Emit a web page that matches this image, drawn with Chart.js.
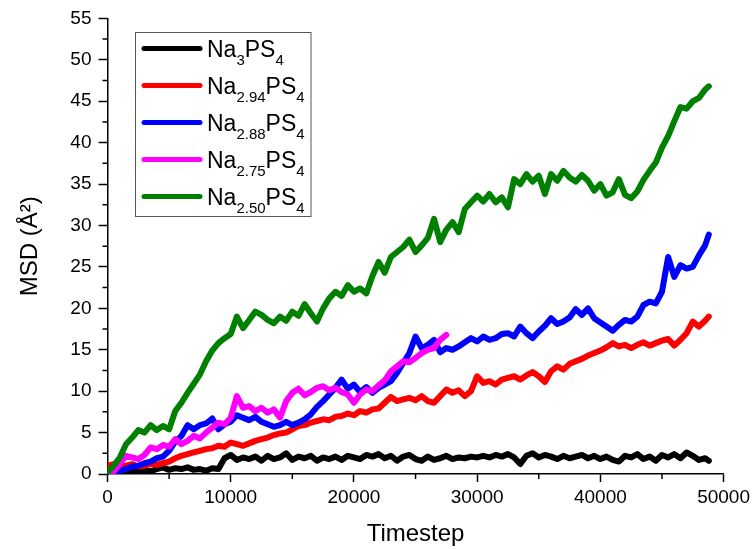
<!DOCTYPE html>
<html>
<head>
<meta charset="utf-8">
<script src="https://cdn.jsdelivr.net/npm/chart.js@4"></script>
<style>
  html, body { margin: 0; padding: 0; background: #fff; }
  #wrap { width: 754px; height: 549px; }
</style>
</head>
<body>
<div id="wrap"><canvas id="chartMSD" width="754" height="549"></canvas></div>
<script>
// series names (shown with subscripts in the legend)
const seriesNames = [
    ['Na', '3', 'PS', '4'],
    ['Na', '2.94', 'PS', '4'],
    ['Na', '2.88', 'PS', '4'],
    ['Na', '2.75', 'PS', '4'],
    ['Na', '2.50', 'PS', '4']
];
const seriesColors = ['#000000', '#ff0000', '#0000ff', '#ff00ff', '#008000'];

const yTicks = [0, 5, 10, 15, 20, 25, 30, 35, 40, 45, 50, 55];
const xTicks = [0, 10000, 20000, 30000, 40000, 50000];

// sampling grid of the trajectories: every 500 steps, last frame at 48800
const timesteps = [];
for (let t = 0; t <= 48500; t += 500) timesteps.push(t);
timesteps.push(48800);

// MSD values (Å^2)
const msdNa3 = [
    0.0, 0.2, 0.3, 0.2, 0.4, 0.3, 0.5, 0.3, 0.6, 0.8,
    0.5, 0.7, 0.6, 0.8, 0.5, 0.6, 0.4, 0.7, 0.6, 1.9,
    2.3, 1.7, 2.0, 1.8, 2.1, 1.6, 2.2, 1.8, 2.0, 2.5,
    1.7, 2.1, 1.9, 2.2, 1.6, 2.0, 1.8, 2.1, 1.7, 2.2,
    2.0, 1.8, 2.3, 2.1, 2.4, 1.9, 2.2, 1.6, 2.1, 2.3,
    1.8, 1.6, 2.1, 1.7, 1.9, 2.2, 1.8, 2.0, 1.9, 2.1,
    2.0, 2.2, 2.0, 2.3, 2.1, 2.4, 2.0, 1.2, 2.2, 2.5,
    2.0, 2.3, 2.1, 1.8, 2.2, 1.9, 2.1, 2.3, 1.9, 2.2,
    1.8, 2.1, 1.7, 1.5, 2.2, 2.0, 2.4, 1.8, 2.1, 1.6,
    2.3, 2.0, 2.4, 1.9, 2.6, 2.2, 1.7, 1.9, 1.6
];
const msdNa294 = [
    1.0, 1.2, 0.9, 1.0, 1.2, 0.9, 1.0, 1.2, 1.1, 1.3,
    1.5, 1.9, 2.2, 2.4, 2.6, 2.8, 3.0, 3.1, 3.4, 3.3,
    3.8, 3.6, 3.4, 3.7, 4.0, 4.2, 4.4, 4.7, 4.9, 5.0,
    5.4, 5.8, 5.9, 6.2, 6.4, 6.6, 6.5, 6.9, 7.0, 7.3,
    7.1, 7.6, 7.4, 7.8, 7.9, 8.6, 9.3, 8.8, 9.0, 9.2,
    8.9, 9.4, 8.8, 8.6, 9.4, 10.2, 9.8, 10.1, 9.4, 10.0,
    11.8, 11.0, 11.2, 10.8, 11.4, 11.6, 11.8, 11.4, 11.9, 12.3,
    11.8, 11.1, 12.4, 13.0, 12.6, 13.3, 13.6, 13.9, 14.3, 14.6,
    14.9, 15.3, 15.8, 15.4, 15.6, 15.2, 15.6, 15.9, 15.5, 15.8,
    16.1, 16.3, 15.5, 16.2, 17.0, 18.4, 17.8, 18.5, 19.0
];
const msdNa288 = [
    0.0, 0.1, 0.4, 0.6, 0.9, 1.0, 1.3, 1.5, 1.9, 2.1,
    2.8, 3.9, 4.6, 5.9, 5.4, 5.9, 6.1, 6.7, 5.4, 6.0,
    6.3, 7.1, 6.8, 6.5, 6.9, 6.3, 6.0, 5.7, 5.9, 6.3,
    5.9, 6.2, 6.6, 7.2, 8.1, 8.8, 9.6, 10.4, 11.4, 10.3,
    10.8, 9.9, 10.5, 9.8, 10.4, 10.8, 11.2, 12.2, 13.4, 14.6,
    16.6, 15.2, 15.6, 16.2, 14.7, 15.2, 15.0, 15.4, 15.9, 16.4,
    16.0, 16.6, 16.2, 16.4, 16.9, 17.0, 16.6, 17.8, 17.0, 16.4,
    17.2, 17.9, 18.8, 18.1, 18.4, 18.9, 19.9, 19.2, 20.0, 18.8,
    18.3, 17.8, 17.3, 18.0, 18.6, 18.4, 19.0, 20.4, 20.8, 20.6,
    22.0, 26.2, 23.8, 25.2, 24.8, 25.0, 26.4, 27.6, 28.9
];
const msdNa275 = [
    0.0, 0.3, 1.2, 2.2, 2.0, 1.8, 2.3, 3.2, 3.0, 3.5,
    3.3, 4.2, 3.6, 4.0, 4.6, 4.3, 5.0, 5.6, 6.2, 6.0,
    6.8, 9.4, 8.0, 8.2, 7.6, 8.0, 7.4, 7.8, 6.8, 8.8,
    9.8, 10.3, 9.5, 9.9, 10.4, 10.6, 10.1, 10.4, 9.9, 9.6,
    8.6, 9.6, 10.2, 10.0, 10.7, 11.3, 12.4, 13.0, 13.6, 13.5,
    14.0, 14.6, 15.0, 15.2, 16.2, 16.8
];
const msdNa250 = [
    0.2, 1.0, 2.0, 3.6, 4.4, 5.3, 5.0, 5.9, 5.3, 5.8,
    5.4, 7.6, 8.6, 9.8, 10.9, 12.0, 13.6, 14.9, 15.8, 16.4,
    16.9, 19.0, 17.6, 18.6, 19.6, 19.2, 18.6, 18.2, 19.0, 18.5,
    19.6, 19.1, 20.5, 19.4, 18.4, 20.0, 21.2, 22.0, 21.5, 22.8,
    22.0, 22.4, 21.8, 23.9, 25.6, 24.3, 26.2, 26.8, 27.4, 28.3,
    26.8, 27.6, 28.5, 30.8, 28.0, 29.5, 30.4, 29.2, 32.0, 32.8,
    33.6, 32.9, 33.8, 32.8, 33.4, 32.2, 35.6, 35.0, 36.2, 35.3,
    36.0, 33.8, 36.2, 35.4, 36.6, 35.8, 35.3, 36.1, 35.4, 34.2,
    35.0, 33.6, 34.0, 35.6, 33.7, 33.3, 34.1, 35.5, 36.6, 37.6,
    39.4, 40.8, 42.6, 44.3, 44.1, 45.0, 45.4, 46.4, 46.8
];

const allSeries = [msdNa3, msdNa294, msdNa288, msdNa275, msdNa250];

function toPoints(values) {
    return values.map((v, i) => ({ x: timesteps[i], y: v }));
}

// minor ticks halfway between the labelled ones
const minorTicks = {
    id: 'minorTicks',
    afterDraw(chart) {
        const c = chart.ctx;
        const xs = chart.scales.x, ys = chart.scales.y;
        const area = chart.chartArea;
        c.save();
        c.strokeStyle = '#000';
        c.lineWidth = 1.5;
        c.beginPath();
        for (let i = 0; i < yTicks.length - 1; i++) {
            const y = ys.getPixelForValue((yTicks[i] + yTicks[i + 1]) / 2);
            c.moveTo(area.left - 5, y);
            c.lineTo(area.left, y);
        }
        for (let i = 0; i < xTicks.length - 1; i++) {
            const x = xs.getPixelForValue((xTicks[i] + xTicks[i + 1]) / 2);
            c.moveTo(x, area.bottom);
            c.lineTo(x, area.bottom + 5);
        }
        c.stroke();
        c.restore();
    }
};

// boxed legend with subscripted formulas
const formulaLegend = {
    id: 'formulaLegend',
    afterDraw(chart) {
        const c = chart.ctx;
        const box = { x: 135.5, y: 32.5, w: 175.5, h: 184 };
        const bigFont = '23px "Liberation Sans", Arial, sans-serif';
        const subFont = '15px "Liberation Sans", Arial, sans-serif';
        c.save();
        c.fillStyle = '#fff';
        c.fillRect(box.x, box.y, box.w, box.h);
        c.strokeStyle = '#555';
        c.lineWidth = 1;
        c.strokeRect(box.x, box.y, box.w, box.h);
        seriesNames.forEach((parts, i) => {
            const cy = 48.5 + i * 37;
            c.strokeStyle = seriesColors[i];
            c.lineWidth = 5;
            c.lineCap = 'round';
            c.beginPath();
            c.moveTo(144, cy);
            c.lineTo(200, cy);
            c.stroke();
            c.fillStyle = '#000';
            c.textBaseline = 'alphabetic';
            c.textAlign = 'left';
            let x = 207;
            const base = cy + 8;
            parts.forEach((p, k) => {
                const sub = k % 2 === 1;
                c.font = sub ? subFont : bigFont;
                c.fillText(p, x, sub ? base + 8 : base);
                x += c.measureText(p).width;
            });
        });
        c.restore();
    }
};

document.addEventListener('DOMContentLoaded', function () {
    const ctx = document.getElementById('chartMSD').getContext('2d');
    const tickFont = { family: '"Liberation Sans", Arial, sans-serif', size: 19 };
    const titleFont = { family: '"Liberation Sans", Arial, sans-serif', size: 24 };

    new Chart(ctx, {
        type: 'line',
        data: {
            datasets: allSeries.map((vals, i) => ({
                label: seriesNames[i].join(''),
                data: toPoints(vals),
                borderColor: seriesColors[i],
                backgroundColor: seriesColors[i],
                borderWidth: 6,
                pointRadius: 0,
                tension: 0,
                borderJoinStyle: 'round',
                borderCapStyle: 'round',
                fill: false,
                order: allSeries.length - i   // last series on top, like the original
            }))
        },
        options: {
            responsive: false,
            animation: false,
            layout: { padding: { left: 12, right: 30, top: 18, bottom: 0 } },
            plugins: {
                legend: { display: false },
                tooltip: { enabled: false }
            },
            scales: {
                x: {
                    type: 'linear',
                    min: 0,
                    max: 50000,
                    afterFit: s => { s.height = 75; },
                    afterBuildTicks: s => { s.ticks = xTicks.map(v => ({ value: v })); },
                    border: { color: '#000', width: 1.5 },
                    grid: { drawOnChartArea: false, drawTicks: true, tickLength: 8, tickWidth: 1.5, tickColor: '#000' },
                    ticks: { color: '#000', font: tickFont, padding: 4, maxRotation: 0, autoSkip: false,
                             callback: v => String(v) },
                    title: { display: true, text: 'Timestep', color: '#000', font: titleFont, padding: { top: 0, bottom: 0 } }
                },
                y: {
                    min: 0,
                    max: 55,
                    afterFit: s => { s.width = 95.5; },
                    afterBuildTicks: s => { s.ticks = yTicks.map(v => ({ value: v })); },
                    border: { color: '#000', width: 1.5 },
                    grid: { drawOnChartArea: false, drawTicks: true, tickLength: 9, tickWidth: 1.5, tickColor: '#000' },
                    ticks: { color: '#000', font: tickFont, padding: 7, autoSkip: false },
                    title: { display: true, text: 'MSD (Å²)', color: '#000', font: titleFont, padding: { top: 4, bottom: 0 } }
                }
            }
        },
        plugins: [minorTicks, formulaLegend]
    });
});
</script>
</body>
</html>
